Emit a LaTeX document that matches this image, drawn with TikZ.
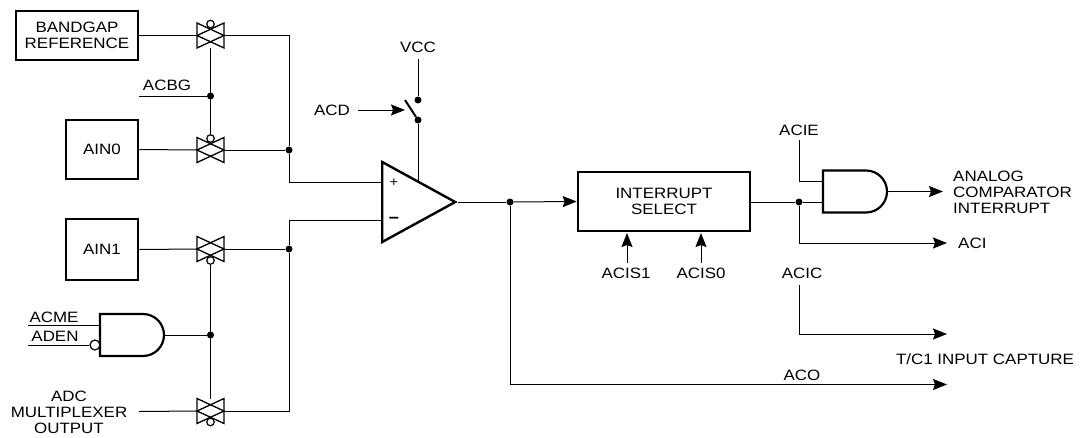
\documentclass[tikz,border=0pt]{standalone}
\usepackage{fontspec}
\setmainfont[FakeStretch=1.13]{Liberation Sans}
\usetikzlibrary{shapes.geometric, arrows.meta, positioning}
\tikzstyle{block} = [rectangle, draw=black, line width=2.6pt, align=center, inner sep=0pt]
\tikzstyle{label} = [align=center, inner sep=0pt, font=\fontsize{15}{16}\selectfont]
\tikzstyle{wire} = [line width=1pt]
\tikzstyle{arrow} = [line width=1pt, -{Stealth[length=14pt,width=11pt,inset=2pt]}]
\tikzstyle{dot} = [circle, fill=black, inner sep=0pt, minimum size=7pt]
\tikzstyle{bubble} = [circle, draw=black, fill=white, line width=1.2pt, inner sep=0pt, minimum size=7.5pt]
\tikzstyle{tgbox} = [rectangle, inner sep=0pt, outer sep=0pt, minimum width=27pt, minimum height=25pt]
\tikzstyle{tgline} = [line width=1.3pt]
\tikzstyle{andbox} = [rectangle, inner sep=0pt, outer sep=0pt, minimum width=64pt, minimum height=42pt]
\tikzstyle{andline} = [line width=2.2pt, line join=miter]
\newcommand{\tgate}[2]{%
  \node (#1) [tgbox] at (#2) {};
  \draw [tgline] (#1.north west) -- (#1.east) -- (#1.south west) -- cycle;
  \draw [tgline] (#1.north east) -- (#1.west) -- (#1.south east) -- cycle;
}
\newcommand{\andgate}[2]{%
  \node (#1) [andbox] at (#2) {};
  \draw [andline] (#1.south west) -- (#1.north west) -- ++(43,0) arc [start angle=90, end angle=-90, radius=21pt] -- cycle;
}
\begin{document}
\begin{tikzpicture}[x=1pt, y=-1pt]
    \useasboundingbox (0,0) rectangle (1088,437);
    % Inputs
    \node (bandgap) [block, minimum width=122pt, minimum height=49pt, label] at (77,35.5) {BANDGAP\\REFERENCE};
    \node (ain0) [block, minimum width=72pt, minimum height=59pt, label] at (102,149.5) {AIN0};
    \node (ain1) [block, minimum width=72pt, minimum height=61pt, label] at (102,249.5) {AIN1};
    \node (adc) [label] at (69,412) {ADC\\MULTIPLEXER\\OUTPUT};
    \coordinate (adc_in) at (139,411.5);

    % Transmission gates
    \tgate{tg_bg}{210.5,35.5}
    \tgate{tg_ain0}{210.5,150}
    \tgate{tg_ain1}{210.5,249}
    \tgate{tg_adc}{210.5,411}
    \node (tg_bg_b) [bubble] at (210.5,24) {};
    \node (tg_ain0_b) [bubble] at (210.5,138.5) {};
    \node (tg_ain1_b) [bubble] at (210.5,260.5) {};
    \node (tg_adc_b) [bubble] at (210.5,422) {};

    \draw [wire] (bandgap.east) -- (tg_bg.west);
    \draw [wire] (ain0.east) -- (tg_ain0.west);
    \draw [wire] (ain1.east) -- (tg_ain1.west);
    \draw [wire] (adc_in) -- (tg_adc.west);

    % ACBG
    \node (acbg) [label] at (167,85) {ACBG};
    \coordinate (acbg_in) at (139,96);
    \node (j_acbg) [dot] at (210.5,96) {};
    \draw [wire] (acbg_in) -- (j_acbg);
    \draw [wire] (tg_bg.south) -- (tg_ain0_b.north);

    % ACME and ADEN
    \andgate{acme_and}{132,335}
    \node (aden_b) [bubble, minimum size=10pt] at (95,345) {};
    \node (acme) [label] at (54,317) {ACME};
    \node (aden) [label] at (55,336) {ADEN};
    \coordinate (acme_in) at (28,325);
    \coordinate (aden_in) at (28,345);
    \node (j_acme) [dot] at (210.5,335) {};
    \draw [wire] (acme_in) -- (acme_in -| acme_and.west);
    \draw [wire] (aden_in) -- (aden_b.west);
    \draw [wire] (acme_and.east) -- (j_acme);
    \draw [wire] (tg_ain1_b.south) -- (tg_adc.north);

    % Comparator
    \node (cmp) [isosceles triangle, isosceles triangle stretches, draw=black, line width=2.4pt, inner sep=0pt, minimum width=80pt, minimum height=73pt, anchor=lower side] at (381,202) {};
    \node (cmp_p) [label, font=\fontsize{13}{13}\selectfont] at (394,183) {+};
    \node (cmp_m) [label, font=\bfseries\fontsize{16}{16}\selectfont] at (394,220) {\textminus};
    \coordinate (cmp_plus) at (381,182);
    \coordinate (cmp_minus) at (381,220);
    \coordinate (cmp_vcc) at (418,181);
    \node (j_plus) [dot] at (289,150) {};
    \node (j_minus) [dot] at (289,249) {};
    \draw [wire] (tg_bg.east) -| (j_plus);
    \draw [wire] (tg_ain0.east) -- (j_plus);
    \draw [wire] (j_plus) |- (cmp_plus);
    \draw [wire] (tg_ain1.east) -- (j_minus);
    \draw [wire] (cmp_minus) -| (j_minus);
    \draw [wire] (j_minus) |- (tg_adc.east);

    % Supply switch
    \node (vcc) [label] at (418,47) {VCC};
    \node (acd) [label] at (332,110) {ACD};
    \node (sw_hi) [dot] at (418,100) {};
    \node (sw_lo) [dot] at (418,120) {};
    \coordinate (sw_arm) at (405,100);
    \coordinate (vcc_in) at (418,59);
    \coordinate (acd_tip) at (405,110);
    \draw [wire] (vcc_in) -- (sw_hi);
    \draw [line width=2pt] (sw_arm) -- (sw_lo);
    \draw [wire] (sw_lo) -- (cmp_vcc);
    \draw [arrow] (acd.east) ++(8,0) -- (acd_tip);

    % Interrupt select
    \node (sel) [block, minimum width=172pt, minimum height=59pt, label] at (664,201.5) {INTERRUPT\\SELECT};
    \node (j_out) [dot] at (510,202) {};
    \draw [wire] (cmp.apex) -- (j_out);
    \draw [arrow] (j_out) -- (sel.west);
    \node (acis1) [label] at (626,273) {ACIS1};
    \node (acis0) [label] at (701,273) {ACIS0};
    \coordinate (acis1_tip) at (627,233);
    \coordinate (acis0_tip) at (701,233);
    \draw [arrow] (acis1_tip |- acis1.north) ++(0,-4) -- (acis1_tip);
    \draw [arrow] (acis0_tip |- acis0.north) ++(0,-4) -- (acis0_tip);

    % Interrupt output
    \andgate{int_and}{855,191.5}
    \coordinate (int_in1) at (823,181.5);
    \coordinate (int_in2) at (823,202);
    \node (j_sel) [dot] at (799,202) {};
    \node (acie) [label] at (799,130) {ACIE};
    \node (int_lbl) [label, align=left, anchor=west] at (953,192.5) {ANALOG\\COMPARATOR\\INTERRUPT};
    \node (aci) [label, anchor=west] at (958,243) {ACI};
    \coordinate (int_tip) at (943,191.5);
    \coordinate (aci_tip) at (947,243);
    \draw [wire] (sel.east |- j_sel) -- (j_sel);
    \draw [wire] (j_sel) -- (int_in2);
    \draw [wire] (acie.south) ++(0,4) |- (int_in1);
    \draw [arrow] (int_and.east) -- (int_tip);
    \draw [arrow] (j_sel) |- (aci_tip);

    % Capture and ACO
    \node (acic) [label] at (802,273) {ACIC};
    \node (tc1) [label] at (985,359) {T/C1 INPUT CAPTURE};
    \node (aco) [label] at (802,375) {ACO};
    \coordinate (acic_in) at (799,285);
    \coordinate (acic_tip) at (947,334);
    \coordinate (aco_tip) at (947,384.5);
    \draw [arrow] (acic_in) |- (acic_tip);
    \draw [arrow] (j_out) |- (aco_tip);
\end{tikzpicture}
\end{document}
